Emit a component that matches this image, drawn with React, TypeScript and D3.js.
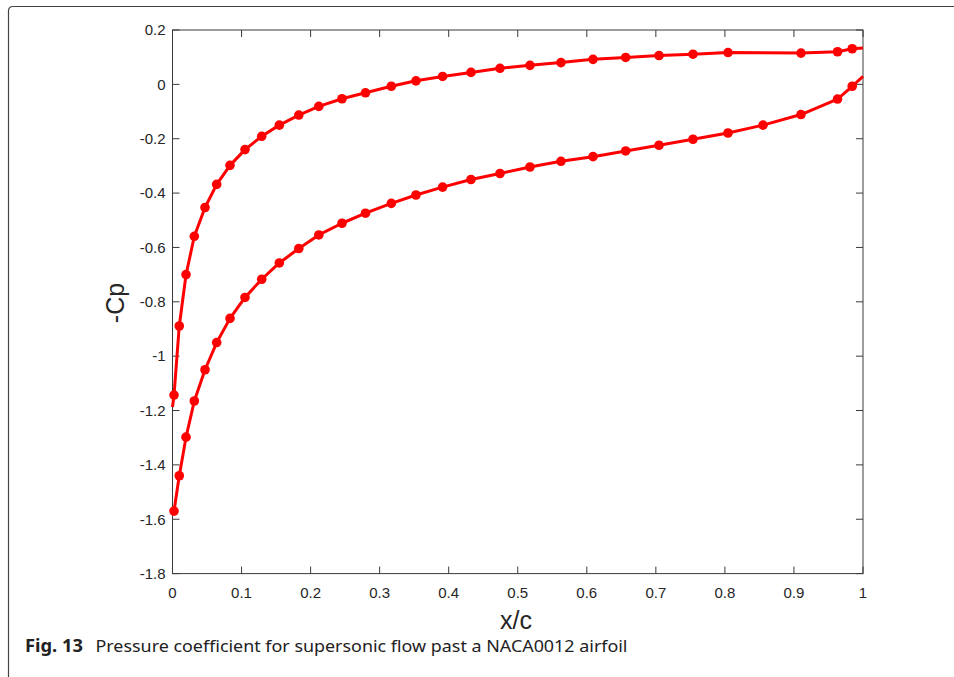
import React from "react";
import * as d3 from "d3";

// Upper branch (-Cp) : x/c and values
const upperX = [0, 0.0022, 0.0098, 0.0196, 0.0316, 0.0471, 0.064, 0.0833, 0.105, 0.1292, 0.1547, 0.1829, 0.2119, 0.2455, 0.2795, 0.3169, 0.3526, 0.3912, 0.4323, 0.4743, 0.5177, 0.5626, 0.609, 0.6563, 0.7046, 0.7538, 0.8045, 0.9102, 0.9631, 0.9844, 1.0];
const upperY = [-1.187, -1.143, -0.889, -0.7, -0.559, -0.453, -0.368, -0.298, -0.24, -0.191, -0.15, -0.113, -0.081, -0.053, -0.031, -0.007, 0.013, 0.029, 0.044, 0.059, 0.07, 0.08, 0.092, 0.099, 0.106, 0.111, 0.117, 0.115, 0.12, 0.131, 0.134];

// Lower branch
const lowerX = [0.0022, 0.0098, 0.0196, 0.0316, 0.0471, 0.064, 0.0833, 0.105, 0.1292, 0.1547, 0.1829, 0.2119, 0.2455, 0.2795, 0.3169, 0.3526, 0.3912, 0.4323, 0.4743, 0.5177, 0.5626, 0.609, 0.6563, 0.7046, 0.7538, 0.8045, 0.8552, 0.9102, 0.9631, 0.9844, 1.0];
const lowerY = [-1.57, -1.44, -1.298, -1.165, -1.05, -0.95, -0.861, -0.784, -0.717, -0.657, -0.604, -0.554, -0.511, -0.474, -0.438, -0.407, -0.378, -0.35, -0.328, -0.304, -0.283, -0.266, -0.245, -0.224, -0.202, -0.179, -0.15, -0.111, -0.054, -0.007, 0.029];

const xTicks = [0, 0.1, 0.2, 0.3, 0.4, 0.5, 0.6, 0.7, 0.8, 0.9, 1];
const yTicks = [0.2, 0, -0.2, -0.4, -0.6, -0.8, -1, -1.2, -1.4, -1.6, -1.8];

const xLabel = "x/c";
const yLabel = "-Cp";
const captionBold = "Fig. 13";
const captionText = "Pressure coefficient for supersonic flow past a NACA0012 airfoil";

export default function App() {
  const W = 954, H = 677;
  const left = 172.5, right = 863, top = 30, bottom = 573.6;
  const x = d3.scaleLinear().domain([0, 1]).range([left, right]);
  const y = d3.scaleLinear().domain([-1.8, 0.2]).range([bottom, top]);
  const line = d3.line<[number, number]>().x(d => x(d[0])).y(d => y(d[1]));
  const up: [number, number][] = upperX.map((v, i) => [v, upperY[i]]);
  const lo: [number, number][] = lowerX.map((v, i) => [v, lowerY[i]]);
  const marked = (d: [number, number]) => d[0] > 0.001 && d[0] < 0.999;
  const axisColor = "#3a3a3a";
  const textColor = "#262626";
  const tickLen = 7;
  const font = "'Liberation Sans', Arial, Helvetica, sans-serif";
  const red = "#ff0000";

  return (
    <svg width={W} height={H} style={{ position: "absolute", left: 0, top: 0, background: "#fff" }}>
      {/* frame */}
      <path d={`M8.5,${H} L8.5,11 Q8.5,6.5 13,6.5 L${W},6.5`} fill="none" stroke="#444" strokeWidth={1.2} />

      {/* axes box */}
      <rect x={left} y={top} width={right - left} height={bottom - top} fill="none" stroke={axisColor} strokeWidth={1} />
      {xTicks.map(t => (
        <g key={"xt" + t}>
          <line x1={x(t)} x2={x(t)} y1={bottom} y2={bottom - tickLen} stroke={axisColor} strokeWidth={1} />
          <line x1={x(t)} x2={x(t)} y1={top} y2={top + tickLen} stroke={axisColor} strokeWidth={1} />
          <text x={x(t)} y={597.5} textAnchor="middle" fontFamily={font} fontSize={15} fill={textColor}>{String(t)}</text>
        </g>
      ))}
      {yTicks.map(t => (
        <g key={"yt" + t}>
          <line x1={left} x2={left + tickLen} y1={y(t)} y2={y(t)} stroke={axisColor} strokeWidth={1} />
          <line x1={right} x2={right - tickLen} y1={y(t)} y2={y(t)} stroke={axisColor} strokeWidth={1} />
          <text x={left - 7} y={y(t) + 5.3} textAnchor="end" fontFamily={font} fontSize={15} fill={textColor}>{String(t)}</text>
        </g>
      ))}

      {/* axis labels */}
      <text x={516} y={628.5} textAnchor="middle" fontFamily={font} fontSize={25} fill={textColor}>{xLabel}</text>
      <text transform={`translate(124,303) rotate(-90)`} textAnchor="middle" fontFamily={font} fontSize={25} fill={textColor}>{yLabel}</text>

      {/* data */}
      <path d={line(up) || ""} fill="none" stroke={red} strokeWidth={3} strokeLinejoin="round" />
      <path d={line(lo) || ""} fill="none" stroke={red} strokeWidth={3} strokeLinejoin="round" />
      {up.filter(marked).map((d, i) => (
        <circle key={"u" + i} cx={x(d[0])} cy={y(d[1])} r={4.8} fill={red} />
      ))}
      {lo.filter(marked).map((d, i) => (
        <circle key={"l" + i} cx={x(d[0])} cy={y(d[1])} r={4.8} fill={red} />
      ))}

      {/* caption */}
      <text x={25} y={651.5} fontFamily="'Noto Sans', 'Open Sans', sans-serif" fontSize={17} fontWeight="bold" fill="#222" textLength={58} lengthAdjust="spacingAndGlyphs">{captionBold}</text>
      <text x={95.5} y={651.5} fontFamily="'Noto Sans', 'Open Sans', sans-serif" fontSize={16} fill="#222" textLength={532} lengthAdjust="spacingAndGlyphs">{captionText}</text>
    </svg>
  );
}
